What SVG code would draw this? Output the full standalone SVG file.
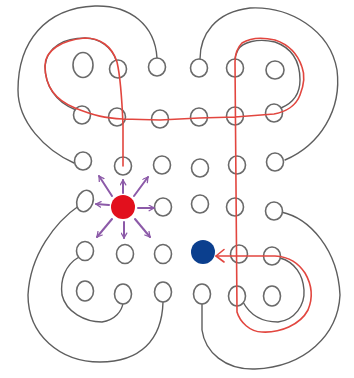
<svg xmlns="http://www.w3.org/2000/svg" width="354" height="378" viewBox="0 0 354 378">
<defs>
<style>
.hole{fill:#fff;stroke:#6a6a6a;stroke-width:1.6}
.pencil{fill:none;stroke:#5e5e5e;stroke-width:1.4;stroke-linecap:round}
.route{fill:none;stroke:#e2463f;stroke-width:1.6;stroke-linecap:round;stroke-linejoin:round}
.ray{stroke:#8c5aa8;stroke-width:2;fill:none;stroke-linecap:round}
</style>
<marker id="pa" viewBox="0 0 10 10" refX="8" refY="5" markerWidth="7" markerHeight="7" orient="auto" markerUnits="userSpaceOnUse">
<path d="M1,1 L8,5 L1,9" fill="none" stroke="#8c5aa8" stroke-width="1.8" stroke-linecap="round"/>
</marker>
</defs>
<rect width="354" height="378" fill="#fff"/>
<g id="connectors">
<path class="pencil" d="M74,163 C45,150 18,122 18,90 C18,42 45,8 95,6 C130,5 155,25 157,58"/>
<path class="pencil" d="M76,110 C55,102 45,85 45,66 C47,46 65,38 85,38 C100,38 112,48 116,60"/>
<path class="pencil" d="M200,59 C200,35 215,12 250,8 C290,6 330,30 337,70 C342,110 320,145 285,160"/>
<path class="pencil" d="M281,108 C293,103 300,93 300,80 C300,62 292,48 275,42 C258,38 242,42 238,50 C236,54 235,57 235,60"/>
<path class="pencil" d="M80,205 C55,222 30,255 28,295 C28,335 60,362 100,362 C140,362 162,340 163,302"/>
<path class="pencil" d="M79,257 C65,265 60,280 62,295 C66,312 85,322 102,322 C115,320 122,311 123,303"/>
<path class="pencil" d="M281,212 C310,218 338,250 340,295 C338,335 305,367 255,369 C225,370 205,352 202,330 L202,303"/>
<path class="pencil" d="M243,302 C250,315 262,322 278,322 C295,320 305,305 304,290 C303,275 295,262 280,258"/>
</g>
<g id="holes">
<ellipse class="hole" cx="83" cy="65" rx="10" ry="12.5"/>
<ellipse class="hole" cx="118" cy="69" rx="8.5" ry="9"/>
<ellipse class="hole" cx="157" cy="67" rx="8.5" ry="9"/>
<ellipse class="hole" cx="199" cy="68" rx="8.5" ry="9"/>
<ellipse class="hole" cx="235" cy="68" rx="8.5" ry="9"/>
<ellipse class="hole" cx="275" cy="70" rx="9" ry="9"/>
<ellipse class="hole" cx="82" cy="115" rx="8.5" ry="9"/>
<ellipse class="hole" cx="117" cy="117" rx="8.5" ry="9"/>
<ellipse class="hole" cx="160" cy="119" rx="8.5" ry="9"/>
<ellipse class="hole" cx="199" cy="117" rx="8.5" ry="9"/>
<ellipse class="hole" cx="235" cy="116" rx="8.5" ry="9"/>
<ellipse class="hole" cx="274" cy="113" rx="8.5" ry="9"/>
<ellipse class="hole" cx="83" cy="161" rx="8.5" ry="9"/>
<ellipse class="hole" cx="123" cy="166" rx="8.5" ry="9"/>
<ellipse class="hole" cx="162" cy="165" rx="8.5" ry="9"/>
<ellipse class="hole" cx="200" cy="168" rx="8.5" ry="9"/>
<ellipse class="hole" cx="237" cy="165" rx="8.5" ry="9"/>
<ellipse class="hole" cx="275" cy="162" rx="8.5" ry="9"/>
<ellipse class="hole" cx="85" cy="201" rx="8" ry="11" transform="rotate(20 85 201)"/>
<ellipse class="hole" cx="163" cy="207" rx="8.5" ry="9"/>
<ellipse class="hole" cx="200" cy="204" rx="8.5" ry="9"/>
<ellipse class="hole" cx="235" cy="207" rx="8.5" ry="9"/>
<ellipse class="hole" cx="274" cy="211" rx="8.5" ry="9"/>
<ellipse class="hole" cx="85" cy="251" rx="8.5" ry="9.5"/>
<ellipse class="hole" cx="125" cy="254" rx="8.5" ry="9.5"/>
<ellipse class="hole" cx="163" cy="254" rx="8.5" ry="9.5"/>
<ellipse class="hole" cx="239" cy="254" rx="8.5" ry="9"/>
<ellipse class="hole" cx="272" cy="256" rx="8.5" ry="9"/>
<ellipse class="hole" cx="85" cy="291" rx="8.5" ry="10"/>
<ellipse class="hole" cx="123" cy="294" rx="8.5" ry="10"/>
<ellipse class="hole" cx="163" cy="292" rx="8.5" ry="10"/>
<ellipse class="hole" cx="202" cy="294" rx="8.5" ry="10"/>
<ellipse class="hole" cx="237" cy="296" rx="8.5" ry="10"/>
<ellipse class="hole" cx="272" cy="296" rx="8.5" ry="10"/>
</g>
<g id="route">
<path class="route" d="M123,166 L123,125 C122,100 120,75 117,62 C112,46 100,38 85,38 C62,40 45,50 45,66 C45,86 55,100 75,108 C95,116 105,118 123,119 L160,120 L199,118 L235,117 L274,114 C285,112 296,106 300,95 C304,85 305,75 302,67 C298,55 290,45 275,40 C262,37 250,38 242,43 C237,48 235,55 235,62 L237,312 C240,322 250,332 262,332 C280,333 300,325 308,310 C313,298 312,285 305,273 C298,263 290,257 275,256 L216,256"/>
<path class="route" d="M224,249.5 L216,256 L224,262"/>
</g>
<g id="start">
<circle cx="123" cy="207" r="12" fill="#e2101d"/>
<g id="rays">
<line class="ray" x1="123" y1="193" x2="123" y2="180" marker-end="url(#pa)"/>
<line class="ray" x1="112" y1="196" x2="99" y2="176" marker-end="url(#pa)"/>
<line class="ray" x1="134" y1="196" x2="148" y2="177" marker-end="url(#pa)"/>
<line class="ray" x1="109" y1="205" x2="96" y2="204" marker-end="url(#pa)"/>
<line class="ray" x1="138" y1="208" x2="154" y2="208" marker-end="url(#pa)"/>
<line class="ray" x1="112" y1="219" x2="97" y2="237" marker-end="url(#pa)"/>
<line class="ray" x1="124" y1="222" x2="124" y2="238" marker-end="url(#pa)"/>
<line class="ray" x1="135" y1="219" x2="150" y2="237" marker-end="url(#pa)"/>
</g>
</g>
<g id="goal">
<circle cx="203" cy="252" r="12" fill="#0b3f8e"/>
</g>
</svg>
